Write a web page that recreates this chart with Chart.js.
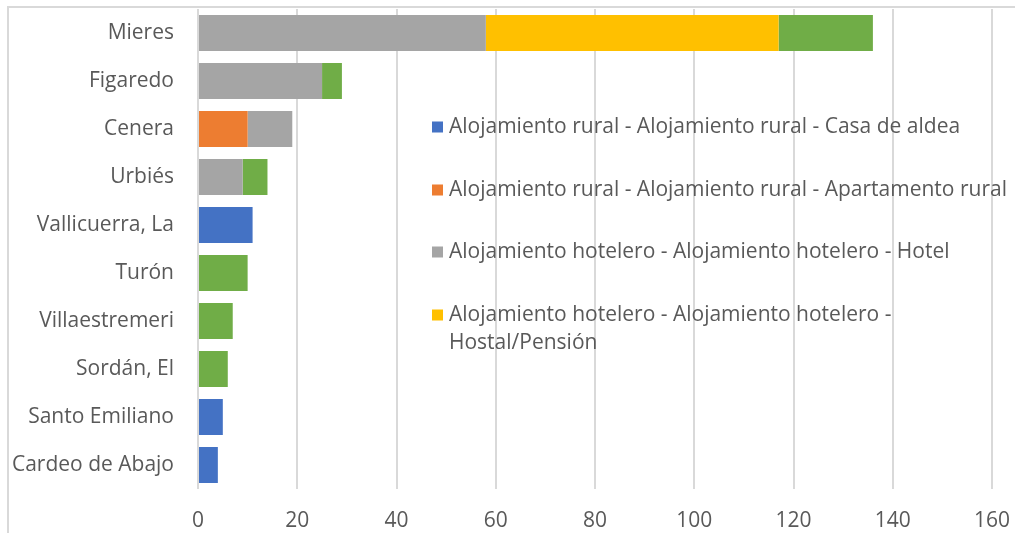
<!DOCTYPE html>
<html>
<head>
<meta charset="utf-8">
<script src="https://cdn.jsdelivr.net/npm/chart.js@4"></script>
<style>
  html, body { margin: 0; padding: 0; background: #fff; overflow: hidden; }
  #wrap { position: relative; width: 1015px; height: 533px; }
  #frame { position: absolute; left: 7px; top: 6px; width: 1100px; height: 600px;
           border: 2px solid #D9D9D9; box-sizing: border-box; }
  canvas { position: absolute; left: 0; top: 0; }
</style>
</head>
<body>
<div id="wrap">
  <div id="frame"></div>
  <canvas id="c" width="1015" height="533"></canvas>
</div>
<script>
const categories = ['Mieres', 'Figaredo', 'Cenera', 'Urbiés', 'Vallicuerra, La',
  'Turón', 'Villaestremeri', 'Sordán, El', 'Santo Emiliano', 'Cardeo de Abajo'];

const seriesNames = [
  'Alojamiento rural - Alojamiento rural - Casa de aldea',
  'Alojamiento rural - Alojamiento rural - Apartamento rural',
  'Alojamiento hotelero - Alojamiento hotelero - Hotel',
  'Alojamiento hotelero - Alojamiento hotelero - Hostal/Pensión',
  'Apartamento turístico'
];

const casaAldea      = [0, 0, 0, 0, 11, 0, 0, 0, 5, 4];
const apartRural     = [0, 0, 10, 0, 0, 0, 0, 0, 0, 0];
const hotel          = [58, 25, 9, 9, 0, 0, 0, 0, 0, 0];
const hostalPension  = [59, 0, 0, 0, 0, 0, 0, 0, 0, 0];
const apartTuristico = [19, 4, 0, 5, 0, 10, 7, 6, 0, 0];

const xTicks = [0, 20, 40, 60, 80, 100, 120, 140, 160];

const colors = ['#4472C4', '#ED7D31', '#A5A5A5', '#FFC000', '#70AD47'];
const textColor = '#595959';
const fontFamily = '"Open Sans", sans-serif';
const fontSize = 21;

const seriesValues = [casaAldea, apartRural, hotel, hostalPension, apartTuristico];

// Legend block placed inside the plot area (only the first four entries fit)
const insideLegend = {
  id: 'insideLegend',
  afterDraw(chart) {
    const ctx = chart.ctx;
    const rows = [
      { idx: 0, lines: [seriesNames[0]], y: 127 },
      { idx: 1, lines: [seriesNames[1]], y: 190 },
      { idx: 2, lines: [seriesNames[2]], y: 252 },
      { idx: 3, lines: ['Alojamiento hotelero - Alojamiento hotelero -', 'Hostal/Pensión'], y: 315 }
    ];
    ctx.save();
    ctx.font = fontSize + 'px ' + fontFamily;
    ctx.textBaseline = 'middle';
    ctx.textAlign = 'left';
    rows.forEach(r => {
      ctx.fillStyle = colors[r.idx];
      ctx.fillRect(432, r.y - 5.5, 11, 11);
      ctx.fillStyle = textColor;
      r.lines.forEach((t, i) => ctx.fillText(t, 449, r.y + i * 28));
    });
    ctx.restore();
  }
};

function noPadding(scale) {
  scale.paddingLeft = 0;
  scale.paddingRight = 0;
  scale.paddingTop = 0;
  scale.paddingBottom = 0;
}

new Chart(document.getElementById('c'), {
  type: 'bar',
  data: {
    labels: categories,
    datasets: seriesValues.map((vals, i) => ({
      label: seriesNames[i],
      data: vals,
      backgroundColor: colors[i],
      borderWidth: 0,
      barPercentage: 0.75,
      categoryPercentage: 1
    }))
  },
  options: {
    indexAxis: 'y',
    responsive: false,
    animation: false,
    layout: { padding: { top: 9, right: 23, left: 0, bottom: 0 } },
    plugins: { legend: { display: false }, tooltip: { enabled: false } },
    scales: {
      x: {
        stacked: true,
        min: 0, max: 160,
        afterBuildTicks(scale) { scale.ticks = xTicks.map(v => ({ value: v })); },
        afterFit(scale) { scale.height = 44; noPadding(scale); },
        grid: { color: '#D9D9D9', lineWidth: 2, drawTicks: false },
        border: { display: false },
        ticks: { color: textColor, font: { family: fontFamily, size: fontSize }, padding: 19, maxRotation: 0 }
      },
      y: {
        stacked: true,
        afterFit(scale) { scale.width = 198; noPadding(scale); },
        grid: { display: false, drawTicks: false },
        border: { display: false },
        ticks: { color: textColor, font: { family: fontFamily, size: fontSize }, padding: 24 }
      }
    }
  },
  plugins: [insideLegend]
});
</script>
</body>
</html>
